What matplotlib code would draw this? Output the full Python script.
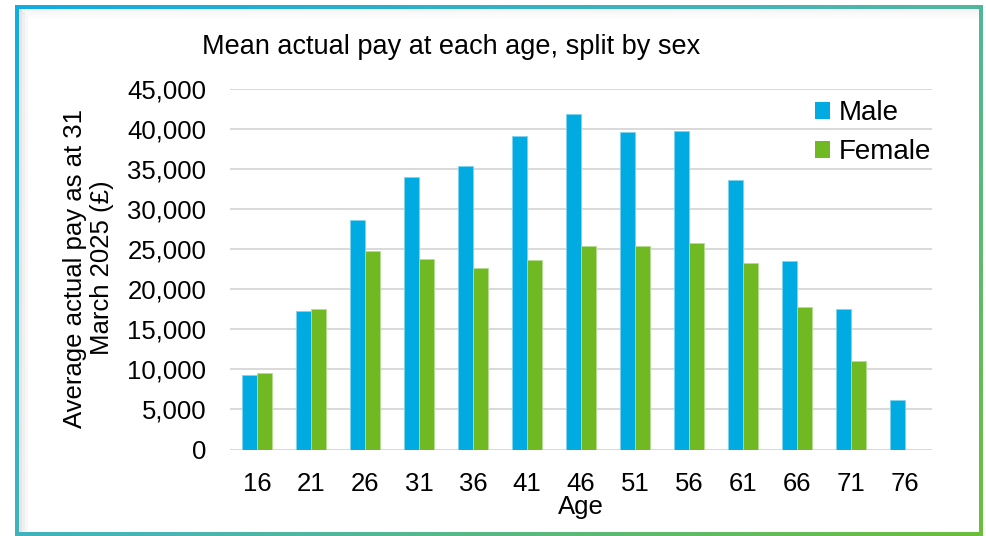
import numpy as np
import matplotlib
matplotlib.use("Agg")
import matplotlib.pyplot as plt
from matplotlib.patches import Rectangle, Patch
from matplotlib.colors import LinearSegmentedColormap
from matplotlib.ticker import FuncFormatter, MultipleLocator

plt.rcParams['font.family'] = ['Liberation Sans', 'DejaVu Sans']

ages = ["16", "21", "26", "31", "36", "41", "46", "51", "56", "61", "66", "71", "76"]
male = [9350, 17350, 28700, 34000, 35400, 39100, 41900, 39600, 39700, 33650, 23500, 17600, 6200]
female = [9500, 17550, 24800, 23800, 22600, 23700, 25350, 25400, 25800, 23300, 17800, 11000, np.nan]

title = "Mean actual pay at each age, split by sex"
ylabel = "Average actual pay as at 31\nMarch 2025 (£)"
xlabel = "Age"
series_names = ["Male", "Female"]

MALE_C = "#00ABE1"
FEMALE_C = "#70B922"

W, H = 987, 536
fig = plt.figure(figsize=(W / 100, H / 100), dpi=100)

# background frame with diagonal gradient
bg = fig.add_axes([0, 0, 1, 1])
bg.set_xlim(0, W)
bg.set_ylim(H, 0)
bg.axis("off")
cmap = LinearSegmentedColormap.from_list("frame", ["#10ADE2", "#4BB5B2", "#6CBE3C"])
gx, gy = np.meshgrid(np.linspace(0, 1, 300), np.linspace(0, 1, 200))
grad = (gx * 0.6 + gy * 0.4)
bg.imshow(grad, cmap=cmap, extent=[15, 983, 536, 5], aspect="auto", zorder=0)
bg.add_patch(Rectangle((19, 9), 960, 523, facecolor="white", edgecolor="none", zorder=1))
# faint inner shadow
for i, a in enumerate([0.10, 0.06, 0.03]):
    bg.add_patch(Rectangle((19 + i * 3, 9 + i * 3), 3, 523 - i * 3, facecolor="black", alpha=a, edgecolor="none", zorder=1.5))
    bg.add_patch(Rectangle((19 + i * 3, 9 + i * 3), 960 - i * 3, 3, facecolor="black", alpha=a * 0.4, edgecolor="none", zorder=1.5))

ax = fig.add_axes([230 / W, 1 - 449.5 / H, (932 - 230) / W, (449.5 - 89) / H])
ax.patch.set_visible(False)
x = np.arange(len(ages))
bw = 0.28
ax.bar(x - bw / 2, male, width=bw, color=MALE_C, edgecolor="#7FD3F0", linewidth=0.6, zorder=3)
ax.bar(x + bw / 2, female, width=bw, color=FEMALE_C, edgecolor="#B5DC90", linewidth=0.6, zorder=3)

ax.set_xlim(-0.5, len(ages) - 0.5)
ax.set_ylim(0, 45000)
ax.yaxis.set_major_locator(MultipleLocator(5000))
ax.yaxis.set_major_formatter(FuncFormatter(lambda v, p: f"{v:,.0f}"))
ax.set_xticks(x)
ax.set_xticklabels(ages)
ax.grid(axis="y", color="#D9D9D9", linewidth=1.4, zorder=0)
ax.set_axisbelow(True)
for s in ax.spines.values():
    s.set_visible(False)
ax.tick_params(axis="both", length=0, labelsize=18.5, colors="#000000")
ax.tick_params(axis="y", pad=17)
ax.tick_params(axis="x", pad=16)

fig.text(451 / W, 1 - 47 / H, title, ha="center", va="center", fontsize=19.5)
fig.text(88.5 / W, 1 - 268 / H, ylabel, ha="center", va="center", rotation=90, fontsize=18.5, linespacing=1.12)
fig.text(581 / W, 1 - 507 / H, xlabel, ha="center", va="center", fontsize=18.5)

handles = [Patch(facecolor=MALE_C, edgecolor="none"), Patch(facecolor=FEMALE_C, edgecolor="none")]
fig.legend(handles, series_names, loc="upper left", bbox_to_anchor=(815 / W, 1 - 100 / H),
           frameon=False, fontsize=20, handlelength=0.55, handleheight=0.55,
           handletextpad=0.3, labelspacing=0.48, borderpad=0, borderaxespad=0)

fig.savefig("out.png", dpi=100)
